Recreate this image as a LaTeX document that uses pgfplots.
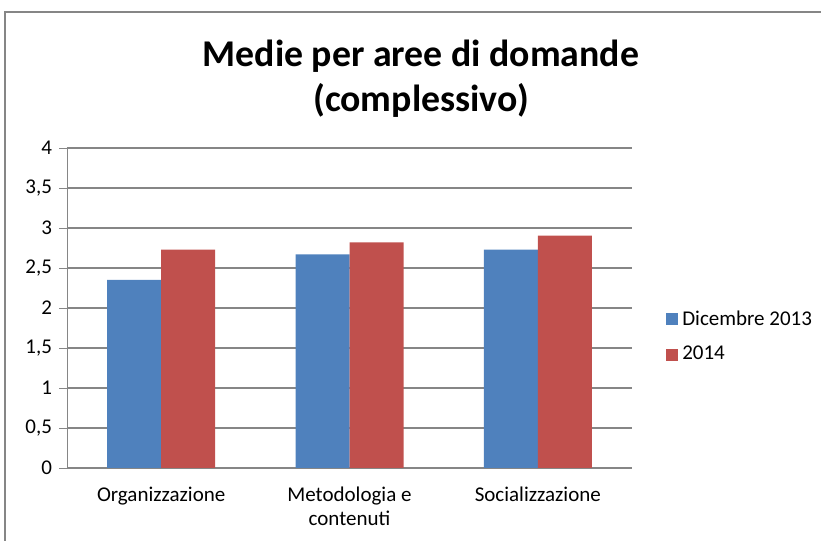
\documentclass[border=0pt]{standalone}
\usepackage{pgfplots}
\pgfplotsset{compat=1.18}
\usepackage{fontspec}
\setmainfont{Carlito}
\definecolor{cblue}{HTML}{4F81BD}
\definecolor{cred}{HTML}{C0504D}
\definecolor{cgrid}{HTML}{868686}
\begin{document}
\begin{tikzpicture}
\useasboundingbox (0pt,0pt) rectangle (410.5pt,270.5pt);
\draw[cgrid,line width=1pt] (2.5pt,0pt) -- (2.5pt,264.5pt) -- (410.5pt,264.5pt);
\node[font=\fontsize{18.9}{22.5}\selectfont\bfseries,align=center] at (210.5pt,231pt) {Medie per aree di domande\\(complessivo)};
\begin{axis}[
  at={(33.5pt,36.5pt)}, anchor=south west,
  scale only axis, width=282.5pt, height=160pt,
  ybar=0pt, bar width=27pt,
  xmin=-0.5, xmax=2.5, ymin=0, ymax=4,
  ytick={0,0.5,...,4},
  xtick={0,1,2},
  xticklabels={Organizzazione,{Metodologia e\\contenuti},Socializzazione},
  extra x ticks={-0.5,0.5,1.5,2.5},
  extra x tick labels={},
  extra x tick style={major tick length=4pt, tick style={cgrid}, grid=none},
  x tick label style={align=center, font=\fontsize{10.5}{12}\selectfont, yshift=-2pt},
  y tick label style={font=\fontsize{10.5}{12}\selectfont},
  /pgf/number format/use comma,
  /pgf/number format/assume math mode=true,
  axis x line*=bottom, axis y line*=left,
  axis line style={cgrid,-},
  major x tick style={draw=none},
  ytick style={cgrid},
  tick align=outside, major tick length=4pt,
  ymajorgrids, grid style={cgrid, line width=0.6pt},
  legend style={at={(1.06,0.41)}, anchor=west, draw=none, fill=none,
    font=\fontsize{10.5}{12}\selectfont, row sep=5pt, inner sep=0pt},
  legend cell align=left,
  legend image code/.code={\fill[#1] (0pt,-3pt) rectangle (6pt,3pt);},
]
\addplot[fill=cblue, draw=none] coordinates {(0,2.35) (1,2.67) (2,2.73)};
\addplot[fill=cred, draw=none] coordinates {(0,2.73) (1,2.82) (2,2.905)};
\legend{Dicembre 2013, 2014}
\end{axis}
\end{tikzpicture}
\end{document}
